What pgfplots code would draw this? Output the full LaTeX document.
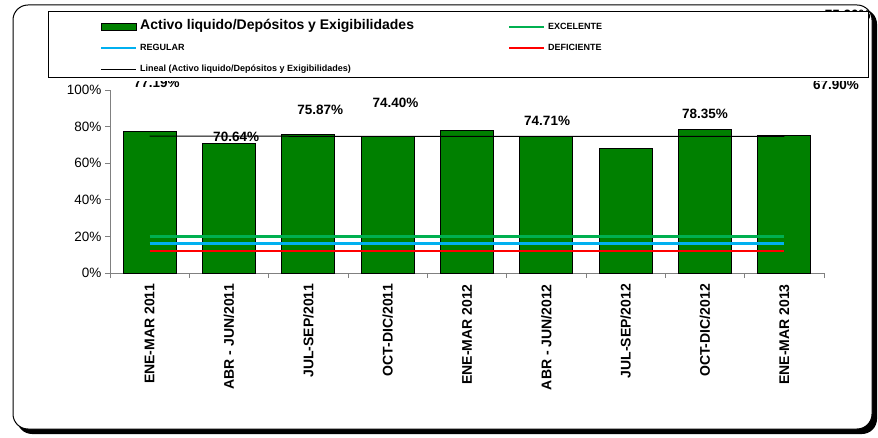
\documentclass[border=0pt]{standalone}
\usepackage{fontspec}
\setmainfont{Liberation Sans}
\usepackage{pgfplots}
\pgfplotsset{compat=1.18}
\definecolor{barg}{RGB}{0,128,0}
\definecolor{excel}{RGB}{0,176,80}
\definecolor{regul}{RGB}{0,176,240}
\definecolor{defic}{RGB}{255,0,0}
\definecolor{axgray}{RGB}{128,128,128}
\begin{document}
\begin{tikzpicture}
\useasboundingbox (0pt,0pt) rectangle (878pt,-438pt);
\fill[black, rounded corners=15pt] (17pt,-9pt) rectangle (877pt,-434pt);
\draw[fill=white, line width=1pt, rounded corners=15pt] (13pt,-5pt) rectangle (872pt,-429pt);
\begin{axis}[
  at={(110pt,-273pt)}, anchor=south west,
  scale only axis, width=714pt, height=183pt,
  xmin=0.5, xmax=9.5, ymin=0, ymax=100,
  axis x line*=bottom, axis y line*=left,
  axis line style={-, draw=axgray, line width=1pt},
  tick align=outside, major tick length=5pt,
  tick style={draw=axgray, line width=0.8pt},
  ytick={0,20,40,60,80,100},
  yticklabels={0\%,20\%,40\%,60\%,80\%,100\%},
  y tick label style={font=\fontsize{13.5}{14}\selectfont},
  xtick={0.5,1.5,2.5,3.5,4.5,5.5,6.5,7.5,8.5,9.5}, xticklabels={},
  extra x ticks={1,2,3,4,5,6,7,8,9},
  extra x tick labels={ENE-MAR 2011,ABR - JUN/2011,JUL-SEP/2011,OCT-DIC/2011,ENE-MAR 2012,ABR - JUN/2012,JUL-SEP/2012,OCT-DIC/2012,ENE-MAR 2013},
  extra x tick style={major tick length=0pt, tick label style={rotate=90, anchor=east, inner xsep=11pt, font=\bfseries\fontsize{14}{14}\selectfont}},
  clip=false,
  legend columns=2,
  legend cell align=left,
  legend style={at={(-0.0868,1.4262)}, anchor=north west, draw=none, fill=white,
    inner xsep=52pt, inner ysep=7pt, row sep=12.5pt, column sep=3pt,
    nodes={inner sep=0pt, text height=7pt, text depth=2pt}},
]
\addplot[ybar, bar width=53pt, bar shift=0pt, fill=barg, draw=black, line width=0.8pt,
  legend image code/.code={\draw[fill=barg,draw=black,line width=0.8pt] (0pt,-6.5pt) rectangle (35pt,0.5pt);}]
  coordinates {(1,77.19) (2,70.64) (3,75.87) (4,74.40) (5,78.10) (6,74.71) (7,67.90) (8,78.35) (9,75.20)};
\addlegendentry{\makebox[365pt][l]{\raisebox{-3pt}{\fontsize{14}{14}\selectfont\bfseries Activo liquido/Depósitos y Exigibilidades}}}
\addplot[excel, line width=2.5pt,
  legend image code/.code={\draw[excel,line width=2pt] (0pt,-3pt)--(35pt,-3pt);}]
  coordinates {(1,20) (9,20)};
\addlegendentry{\makebox[268pt][l]{\raisebox{-3pt}{\fontsize{9}{9}\selectfont\bfseries EXCELENTE}}}
\addplot[regul, line width=2.5pt,
  legend image code/.code={\draw[regul,line width=2pt] (0pt,0pt)--(35pt,0pt);}]
  coordinates {(1,16) (9,16)};
\addlegendentry{\makebox[365pt][l]{\fontsize{9}{9}\selectfont\bfseries REGULAR}}
\addplot[defic, line width=2.5pt,
  legend image code/.code={\draw[defic,line width=2pt] (0pt,0pt)--(35pt,0pt);}]
  coordinates {(1,12) (9,12)};
\addlegendentry{\makebox[268pt][l]{\fontsize{9}{9}\selectfont\bfseries DEFICIENTE}}
\addplot[black, line width=1pt,
  legend image code/.code={\draw[black,line width=1pt] (0pt,0pt)--(35pt,0pt);}]
  coordinates {(1,74.74) (9,74.68)};
\addlegendentry{\makebox[365pt][l]{\fontsize{9}{9}\selectfont\bfseries Lineal (Activo liquido/Depósitos y Exigibilidades)}}
\begin{scope}[every node/.style={font=\bfseries\fontsize{13.5}{14}\selectfont}]
\node at (axis cs:1.09,103.8) {77.19\%};
\node at (axis cs:2.09,74.3) {70.64\%};
\node at (axis cs:3.15,89.1) {75.87\%};
\node at (axis cs:4.10,92.9) {74.40\%};
\node at (axis cs:5.05,125) {78.10\%};
\node at (axis cs:6.01,83.0) {74.71\%};
\node at (axis cs:9.65,102.7) {67.90\%};
\node at (axis cs:8.00,86.9) {78.35\%};
\node at (axis cs:9.80,141) {75.20\%};
\end{scope}
\end{axis}
\draw[line width=1pt] (48pt,-12pt) rectangle (868pt,-78pt);
\end{tikzpicture}
\end{document}
